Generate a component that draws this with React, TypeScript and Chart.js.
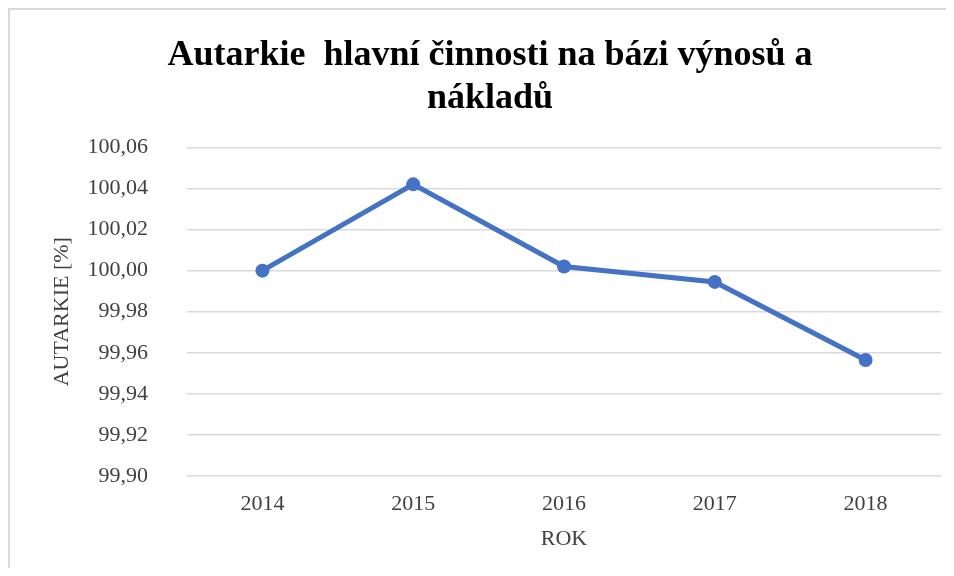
import React, { useEffect, useRef } from "react";
import { Chart, registerables } from "chart.js";

Chart.register(...registerables);

const titleLines = ["Autarkie  hlavní činnosti na bázi výnosů a", "nákladů"];
const years = ["2014", "2015", "2016", "2017", "2018"];
const autarkie = [100.0, 100.042, 100.002, 99.9945, 99.9565];
const yMin = 99.9;
const yMax = 100.06;
const yStep = 0.02;
const xTitle = "ROK";
const yTitle = "AUTARKIE [%]";

export default function App() {
  const ref = useRef<HTMLCanvasElement | null>(null);
  useEffect(() => {
    if (!ref.current) return;
    const serif = "'Liberation Serif', 'Times New Roman', serif";
    const chart = new Chart(ref.current, {
      type: "line",
      data: {
        labels: years,
        datasets: [
          {
            data: autarkie,
            borderColor: "#4472C4",
            backgroundColor: "#4472C4",
            borderWidth: 5,
            pointRadius: 7,
            pointBorderWidth: 0,
            pointBackgroundColor: "#4472C4",
            tension: 0,
          },
        ],
      },
      options: {
        animation: false,
        responsive: false,
        maintainAspectRatio: false,
        layout: { padding: { left: 29, right: 13, top: 0, bottom: 0 } },
        plugins: {
          legend: { display: false },
          tooltip: { enabled: false },
          title: {
            display: true,
            text: titleLines,
            color: "#000000",
            font: { family: serif, size: 36, weight: "bold", lineHeight: 1.2 },
            padding: { top: 24, bottom: 27 },
          },
        },
        scales: {
          x: {
            offset: true,
            grid: { display: false, drawTicks: false },
            border: { display: false },
            ticks: {
              color: "#404040",
              font: { family: serif, size: 22 },
              padding: 15,
              maxRotation: 0,
            },
            title: {
              display: true,
              text: xTitle,
              color: "#404040",
              font: { family: serif, size: 22, lineHeight: 1.2 },
              padding: { top: 0, bottom: 16 },
            },
            afterFit: (s: any) => {
              s.height = 92;
            },
          },
          y: {
            min: yMin,
            max: yMax,
            grid: { color: "#d9d9d9", lineWidth: 1.5, drawTicks: false },
            border: { display: false },
            ticks: {
              stepSize: yStep,
              color: "#404040",
              font: { family: serif, size: 22 },
              padding: 39,
              callback: (v: any) => Number(v).toFixed(2).replace(".", ","),
            },
            title: {
              display: true,
              text: yTitle,
              color: "#404040",
              font: { family: serif, size: 22, lineHeight: 1.2 },
              padding: { top: 10, bottom: 0 },
            },
            afterFit: (s: any) => {
              s.width = 148;
            },
          },
        },
      },
    });
    return () => chart.destroy();
  }, []);
  return (
    <div
      style={{
        position: "relative",
        width: 946,
        height: 560,
        borderTop: "2px solid #d9d9d9",
        borderLeft: "2px solid #d9d9d9",
        boxSizing: "border-box",
        background: "#ffffff",
      }}
    >
      <canvas ref={ref} width={944} height={558} style={{ display: "block" }} />
    </div>
  );
}
